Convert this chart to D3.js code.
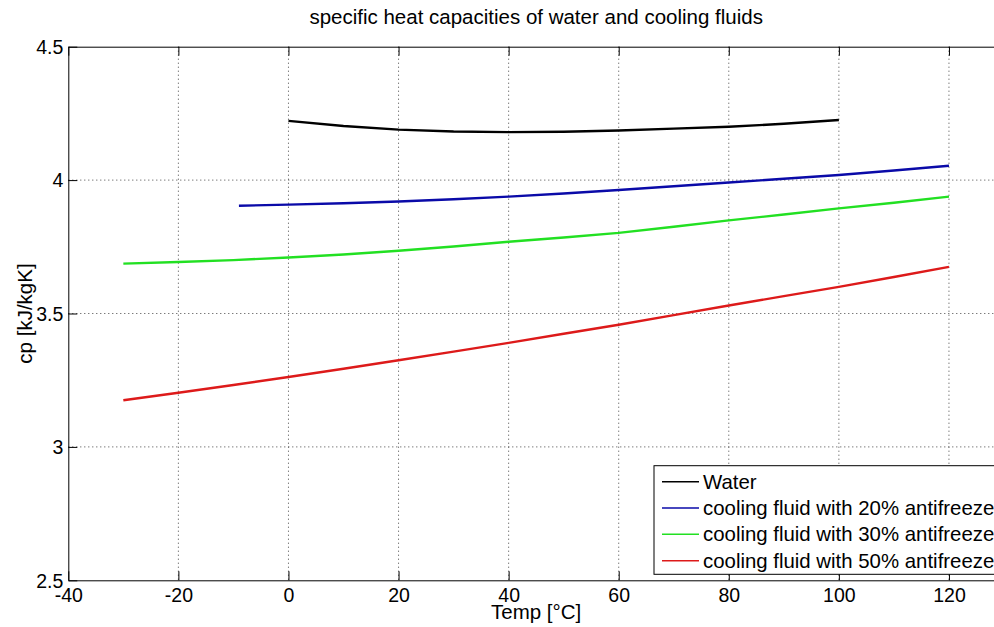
<!DOCTYPE html>
<html>
<head>
<meta charset="utf-8">
<script src="https://cdn.jsdelivr.net/npm/d3@7"></script>
<style>
  html, body { margin: 0; padding: 0; background: #fff; overflow: hidden; }
  svg { display: block; font-family: "Liberation Sans", Arial, sans-serif; }
</style>
</head>
<body>
<svg id="chart" width="994" height="627"></svg>
<script>
// ---- data ----
const waterT  = [0, 10, 20, 30, 40, 50, 60, 70, 80, 90, 100];
const waterCp = [4.222, 4.203, 4.189, 4.182, 4.180, 4.181, 4.186, 4.193, 4.200, 4.211, 4.225];

const fluid20T  = [-9, 0, 10, 20, 30, 40, 50, 60, 70, 80, 90, 100, 110, 120];
const fluid20Cp = [3.904, 3.908, 3.913, 3.920, 3.928, 3.938, 3.950, 3.963, 3.977, 3.991, 4.005, 4.019, 4.036, 4.054];

const fluid30T  = [-30, -20, -10, 0, 10, 20, 30, 40, 50, 60, 70, 80, 90, 100, 110, 120];
const fluid30Cp = [3.687, 3.693, 3.700, 3.710, 3.721, 3.735, 3.751, 3.769, 3.785, 3.802, 3.825, 3.849, 3.871, 3.894, 3.915, 3.938];

const fluid50T  = [-30, -20, -10, 0, 10, 20, 30, 40, 50, 60, 70, 80, 90, 100, 110, 120];
const fluid50Cp = [3.175, 3.203, 3.232, 3.262, 3.293, 3.325, 3.357, 3.390, 3.424, 3.458, 3.494, 3.530, 3.565, 3.600, 3.637, 3.675];

const seriesNames  = ["Water", "cooling fluid with 20% antifreeze", "cooling fluid with 30% antifreeze", "cooling fluid with 50% antifreeze"];
const seriesColors = ["#000000", "#0a0aa8", "#22e022", "#dd1a1a"];

const xTicks = [-40, -20, 0, 20, 40, 60, 80, 100, 120];
const yTicks = [2.5, 3, 3.5, 4, 4.5];
const xDomain = [-40, 130];
const yDomain = [2.5, 4.5];

const titleText = "specific heat capacities of water and cooling fluids";
const xLabel = "Temp [°C]";
const yLabel = "cp [kJ/kgK]";

// ---- layout ----
const svg = d3.select("#chart");
const pL = 68.3, pR = 1004, pT = 46.7, pB = 580.3;

const x = d3.scaleLinear().domain(xDomain).range([pL, pR]);
const y = d3.scaleLinear().domain(yDomain).range([pB, pT]);

// grid
const grid = svg.append("g");
xTicks.forEach(t => {
  if (t === xDomain[0]) return;
  grid.append("line").attr("x1", x(t)).attr("x2", x(t)).attr("y1", pT).attr("y2", pB)
    .attr("stroke", "#444").attr("stroke-width", 1).attr("stroke-dasharray", "1,3");
});
yTicks.forEach(t => {
  if (t === yDomain[0] || t === yDomain[1]) return;
  grid.append("line").attr("x1", pL).attr("x2", pR).attr("y1", y(t)).attr("y2", y(t))
    .attr("stroke", "#444").attr("stroke-width", 1).attr("stroke-dasharray", "1,3");
});

// axes (ticks inward)
const tickLen = 9;
const fmt = d => String(d);
const xAxisB = d3.axisBottom(x).tickValues(xTicks).tickSizeInner(-tickLen).tickSizeOuter(0).tickFormat(fmt);
const xAxisT = d3.axisTop(x).tickValues(xTicks).tickSizeInner(-tickLen).tickSizeOuter(0).tickFormat("");
const yAxisL = d3.axisLeft(y).tickValues(yTicks).tickSizeInner(-tickLen).tickSizeOuter(0).tickFormat(fmt);

const gxb = svg.append("g").attr("transform", `translate(0,${pB})`).call(xAxisB);
const gxt = svg.append("g").attr("transform", `translate(0,${pT})`).call(xAxisT);
const gyl = svg.append("g").attr("transform", `translate(${pL},0)`).call(yAxisL);

[gxb, gxt, gyl].forEach(g => {
  g.select(".domain").attr("stroke", "#000").attr("stroke-width", 1);
  g.selectAll(".tick line").attr("stroke", "#000").attr("stroke-width", 1);
  g.selectAll(".tick text").attr("fill", "#000").style("font-size", "19.5px").style("font-family", "'Liberation Sans', Arial, sans-serif");
});
gxb.selectAll(".tick text").attr("y", 8).attr("dy", "0.71em");
gyl.selectAll(".tick text").attr("x", -5).attr("dy", "0.35em");

// box right edge
svg.append("line").attr("x1", pR).attr("x2", pR).attr("y1", pT).attr("y2", pB).attr("stroke", "#000");

// lines
const series = [
  {T: waterT, cp: waterCp},
  {T: fluid20T, cp: fluid20Cp},
  {T: fluid30T, cp: fluid30Cp},
  {T: fluid50T, cp: fluid50Cp}
];
const line = d3.line().x(d => x(d[0])).y(d => y(d[1]));
series.forEach((s, i) => {
  const pts = s.T.map((t, j) => [t, s.cp[j]]);
  svg.append("path").datum(pts).attr("d", line)
    .attr("fill", "none").attr("stroke", seriesColors[i]).attr("stroke-width", 2.4)
    .attr("stroke-linejoin", "round");
});

// title & labels
svg.append("text").attr("x", (pL + pR) / 2).attr("y", 23.5).attr("text-anchor", "middle")
  .style("font-size", "20.5px").attr("fill", "#000").text(titleText);
svg.append("text").attr("x", (pL + pR) / 2).attr("y", 618.5).attr("text-anchor", "middle")
  .style("font-size", "20.5px").attr("fill", "#000").text(xLabel);
svg.append("text").attr("transform", `translate(31.5,${(pT + pB) / 2}) rotate(-90)`).attr("text-anchor", "middle")
  .style("font-size", "20.5px").attr("fill", "#000").text(yLabel);

// legend
const lg = svg.append("g");
const lgLeft = 654, lgTop = 465.7, lgBottom = 574.3, lgRight = 999;
lg.append("rect").attr("x", lgLeft).attr("y", lgTop).attr("width", lgRight - lgLeft).attr("height", lgBottom - lgTop)
  .attr("fill", "#fff").attr("stroke", "#000").attr("stroke-width", 1);
const rowY = [481.7, 508, 534.3, 560.7];
seriesNames.forEach((n, i) => {
  lg.append("line").attr("x1", 662).attr("x2", 699).attr("y1", rowY[i]).attr("y2", rowY[i])
    .attr("stroke", seriesColors[i]).attr("stroke-width", 1.5);
  lg.append("text").attr("x", 703).attr("y", rowY[i]).attr("dy", "0.35em")
    .style("font-size", "20.4px").attr("fill", "#000").text(n);
});
</script>
</body>
</html>
